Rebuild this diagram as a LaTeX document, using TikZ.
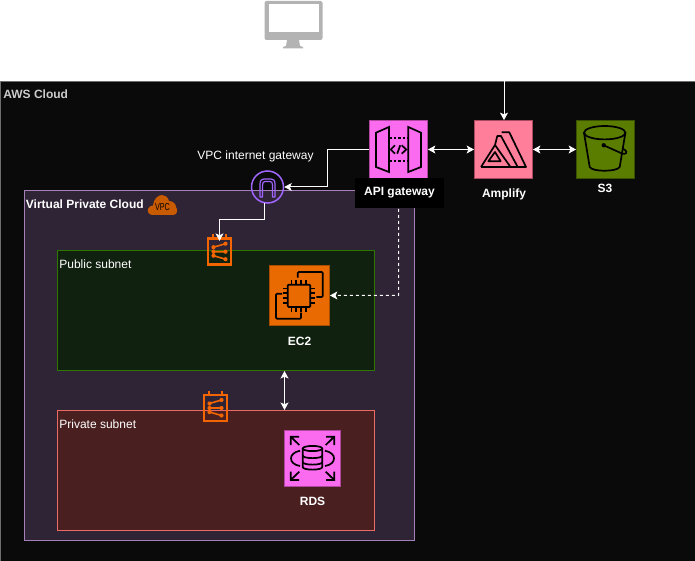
\documentclass[tikz,border=0pt]{standalone}
\usepackage{fontspec}
\usepackage{graphicx}
\setmainfont{Liberation Sans}
\usetikzlibrary{arrows.meta}
\definecolor{awsbg}{HTML}{0A0A0A}
\definecolor{awsedge}{HTML}{6E6E6E}
\definecolor{vpcbg}{HTML}{2F2336}
\definecolor{vpcedge}{HTML}{A680B8}
\definecolor{pubbg}{HTML}{10210F}
\definecolor{pubedge}{HTML}{2D7600}
\definecolor{privbg}{HTML}{4A1F1F}
\definecolor{privedge}{HTML}{EA6B66}
\definecolor{pinkfill}{HTML}{FA6BF0}
\definecolor{pinkedge}{HTML}{B0479F}
\definecolor{amplifyfill}{HTML}{FF7F9A}
\definecolor{amplifyedge}{HTML}{A84A60}
\definecolor{greenfill}{HTML}{5A7D00}
\definecolor{greenedge}{HTML}{3A5200}
\definecolor{orangefill}{HTML}{E86A00}
\definecolor{orangeedge}{HTML}{A84E00}
\definecolor{subnetorange}{HTML}{F26500}
\definecolor{cloudorange}{HTML}{C85A00}
\definecolor{igwpurple}{HTML}{A166FF}
\definecolor{monitorgray}{HTML}{B3B3B3}
\tikzset{
  region/.style={draw, line width=.8pt},
  service/.style={draw, line width=.8pt, minimum width=58pt, minimum height=58pt, inner sep=0pt},
  lab/.style={text=white, font=\fontsize{12}{14}\selectfont},
  blab/.style={text=white, font=\bfseries\fontsize{12}{14}\selectfont},
  conn/.style={white, line width=1pt, -{Stealth[length=7.5pt,width=8pt,inset=1.8pt]}},
  biconn/.style={white, line width=1pt, {Stealth[length=7.5pt,width=8pt,inset=1.8pt]}-{Stealth[length=7.5pt,width=8pt,inset=1.8pt]}},
  glyph/.style={black, line width=1.7pt, line join=miter},
  subnetbox/.style={draw=subnetorange, line width=2.6pt, minimum width=23pt, minimum height=26pt, inner sep=0pt},
  subnetmark/.pic={
    \draw[subnetorange, line width=2.4pt] (-6.5,-13.5) -- (-6.5,-17.5) (6.5,-13.5) -- (6.5,-17.5);
    \draw[subnetorange, line width=1.6pt]
      (-6,-4.5) -- (6,-8) (-6,0) -- (6,0) (-6,4) -- (6,7.5);
    \fill[subnetorange] (-6,-4.5) circle (2.1) (6,-8) circle (2.1) (-6,0) circle (2.1)
      (6,0) circle (2.1) (-6,4) circle (2.1) (6,7.5) circle (2.1);
  }
}
\begin{document}
\begin{tikzpicture}[x=1pt,y=-1pt]
\useasboundingbox (0,0) rectangle (695,561);
\fill[white] (0,0) rectangle (695,561);
% regions
\draw[region, draw=awsedge, fill=awsbg] (0.8,81) rectangle (696,562);
\draw[region, draw=vpcedge, fill=vpcbg] (24.5,190.5) rectangle (414.5,540.5);
\draw[region, draw=pubedge, fill=pubbg] (57,250.5) rectangle (374.5,370.5);
\draw[region, draw=privedge, fill=privbg] (57,410.5) rectangle (374.5,530.5);
% region labels
\node[anchor=west, inner sep=0pt, text=black!20, font=\bfseries\fontsize{12}{14}\selectfont] (awslabel) at (3.2,94.3) {AWS Cloud};
\node[anchor=west, inner sep=0pt, blab] (vpclabel) at (25.7,204.5) {Virtual Private Cloud};
\node[anchor=west, inner sep=0pt, lab] (publabel) at (59.2,264.3) {Public subnet};
\node[anchor=west, inner sep=0pt, lab] (privlabel) at (59.2,424.3) {Private subnet};
% monitor
\fill[monitorgray, rounded corners=2pt] (264.5,1) rectangle (322.5,40);
\fill[white] (268.5,4.5) rectangle (319,32.5);
\fill[monitorgray] (287,40) -- (299,40) -- (300,46) -- (303,47) -- (303,48.5) -- (283,48.5) -- (283,47) -- (286,46) -- cycle;
% services
\node[service, draw=pinkedge, fill=pinkfill] (api) at (398.5,149.5) {};
\node[service, draw=amplifyedge, fill=amplifyfill] (amplify) at (503.5,149.5) {};
\node[service, draw=greenedge, fill=greenfill] (s3) at (605.5,149.5) {};
\node[service, draw=orangeedge, fill=orangefill, minimum width=60pt, minimum height=60pt] (ec2) at (299.5,295.5) {};
\node[service, draw=pinkedge, fill=pinkfill, minimum width=56pt, minimum height=56pt] (rds) at (312.5,458.5) {};
\node[circle, draw=igwpurple, line width=1.5pt, minimum size=32pt, inner sep=0pt] (igw) at (267.5,187) {};
\node[subnetbox] (subA) at (219.5,251.7) {};
\pic at (219.5,251.7) {subnetmark};
\node[subnetbox] (subB) at (215.5,408) {};
\pic at (215.5,408) {subnetmark};
% IGW glyph
\draw[igwpurple, line width=1.2pt, line join=round]
  (260,197) -- (260,184) .. controls (260,180) and (262,179) .. (264,179) -- (271,179)
  .. controls (273,179) and (275,180) .. (275,184) -- (275,197) -- (272.5,197) -- (272.5,185)
  .. controls (272.5,182.5) and (271.5,181.5) .. (270,181.5) -- (265,181.5)
  .. controls (263.5,181.5) and (262.5,182.5) .. (262.5,185) -- (262.5,197) -- cycle;
% API gateway glyph
\draw[glyph] (376,132.7) -- (389,127) -- (389,172) -- (376,167) -- cycle;
\draw[glyph] (408.3,127) -- (421,132.7) -- (421,167) -- (408.3,172) -- cycle;
\draw[black, line width=1.4pt, dash pattern=on 2.5pt off 2pt] (389,138) -- (408,138) (389,161) -- (408,161);
\draw[glyph] (395,145.3) -- (390.7,149.5) -- (395,153.7) (397.2,153.7) -- (400.2,145.3) (401.7,145.3) -- (406.3,149.5) -- (401.7,153.7);
% Amplify glyph
\draw[glyph, line join=round]
  (481,167) -- (495,145) -- (497.3,136) -- (501,136) -- (517.7,167) -- (510.5,167) -- (495,145)
  (481,167) -- (510.5,167)
  (488.3,161.3) -- (495,152) -- (500.7,161.3) -- cycle
  (501.7,132.3) -- (509.3,132.3) -- (526,167) -- (517.7,167);
% S3 glyph
\draw[glyph] (604.7,132.7) ellipse (20.7 and 6.7);
\draw[glyph] (584,132.7) -- (589.7,167) .. controls (592,172) and (617,172) .. (619.7,167) -- (625.4,132.7);
\fill[black] (603.7,145.3) circle (2.2);
\draw[black, line width=1.7pt] (603.7,145.3) -- (622,153.5) .. controls (626,155) and (628,152) .. (625,150) -- (622.5,148.5);
% EC2 glyph
\draw[glyph, rounded corners=1pt] (287.7,284.7) rectangle (310.3,307);
\draw[glyph, rounded corners=1pt] (297.7,277.7) -- (297.7,272) -- (322.7,272) -- (322.7,297) -- (316.3,297);
\draw[glyph, rounded corners=1pt] (282,293.7) -- (276,293.7) -- (276,318.7) -- (301,318.7) -- (301,312.7);
\foreach \p in {291.3,296,301,306}{\draw[black, line width=1.5pt] (\p,284.7) -- (\p,280) (\p,307) -- (\p,312);}
\foreach \p in {288.3,292.9,298.2,302.9}{\draw[black, line width=1.5pt] (287.7,\p) -- (283,\p) (310.3,\p) -- (315,\p);}
% RDS glyph
\draw[glyph] (302.7,448.5) -- (302.7,467) .. controls (302.7,470.5) and (322.3,470.5) .. (322.3,467) -- (322.3,448.5);
\draw[glyph] (312.5,448.5) ellipse (9.8 and 2.6);
\draw[glyph] (302.7,455.5) .. controls (302.7,459) and (322.3,459) .. (322.3,455.5)
  (302.7,462) .. controls (302.7,465.5) and (322.3,465.5) .. (322.3,462);
\draw[glyph] (300,450.7) .. controls (294,452) and (291,455) .. (291,458.3) .. controls (291,462) and (294,465) .. (300,466);
\draw[glyph] (325,450.7) .. controls (331,452) and (334,455) .. (334,458.3) .. controls (334,462) and (331,465) .. (325,466);
\draw[glyph] (299.3,445) -- (290.7,436.7) (290.7,445) -- (290.7,436.7) -- (299,436.7);
\draw[glyph] (325.7,445) -- (334.3,436.7) (334.3,445) -- (334.3,436.7) -- (326,436.7);
\draw[glyph] (299.3,471.7) -- (290.7,480) (290.7,471.7) -- (290.7,480) -- (299,480);
\draw[glyph] (325.7,471.7) -- (334.3,480) (334.3,471.7) -- (334.3,480) -- (326,480);
% VPC badge
\fill[cloudorange] (153,215) .. controls (149,215) and (147,212) .. (148,209)
  .. controls (149,206.5) and (151,205.5) .. (153,205.5)
  .. controls (153.5,199) and (158,195) .. (162,195)
  .. controls (165,195) and (168,197) .. (169,201)
  .. controls (173,201) and (176,204) .. (176,207)
  .. controls (178.5,210) and (177,215) .. (173,215) -- cycle;
\node[inner sep=0pt, text=black, font=\fontsize{10}{10}\selectfont] (vpcbadge) at (162.5,207) {\scalebox{.72}[1]{VPC}};
% connectors
\coordinate (top) at (504,81);
\coordinate (bendA) at (327,149.5);
\coordinate (bendB) at (219.5,220);
\coordinate (bendC) at (398.5,295.3);
\coordinate (pubbot) at (284.5,371);
\coordinate (privtop) at (284.5,410);
\draw[conn] (top) -- (top |- amplify.north);
\draw[biconn] (api.east) -- (amplify.west);
\draw[biconn] (amplify.east) -- (s3.west);
\draw[conn] (api.west) -- (bendA) -- (bendA |- igw.east) -- (igw.east);
\draw[conn, shorten >=-3.5pt] (264.5,203) |- (bendB) -- (subA.north);
\draw[conn, dash pattern=on 3pt off 3pt] (api.south) -- (bendC) -- (ec2.east);
\draw[biconn] (pubbot) -- (privtop);
% labels
\node[fill=black, minimum width=89pt, minimum height=30pt, inner sep=0pt, blab] (apilabel) at (399.5,193) {API gateway};
\node[inner sep=0pt, blab] (amplifylabel) at (504,194.3) {Amplify};
\node[inner sep=0pt, blab] (s3label) at (605,188.3) {S3};
\node[inner sep=0pt, blab] (ec2label) at (299.5,341.3) {EC2};
\node[inner sep=0pt, blab] (rdslabel) at (312.5,501.8) {RDS};
\node[inner sep=0pt, lab] (igwlabel) at (255.5,156.3) {VPC internet gateway};
\end{tikzpicture}
\end{document}
